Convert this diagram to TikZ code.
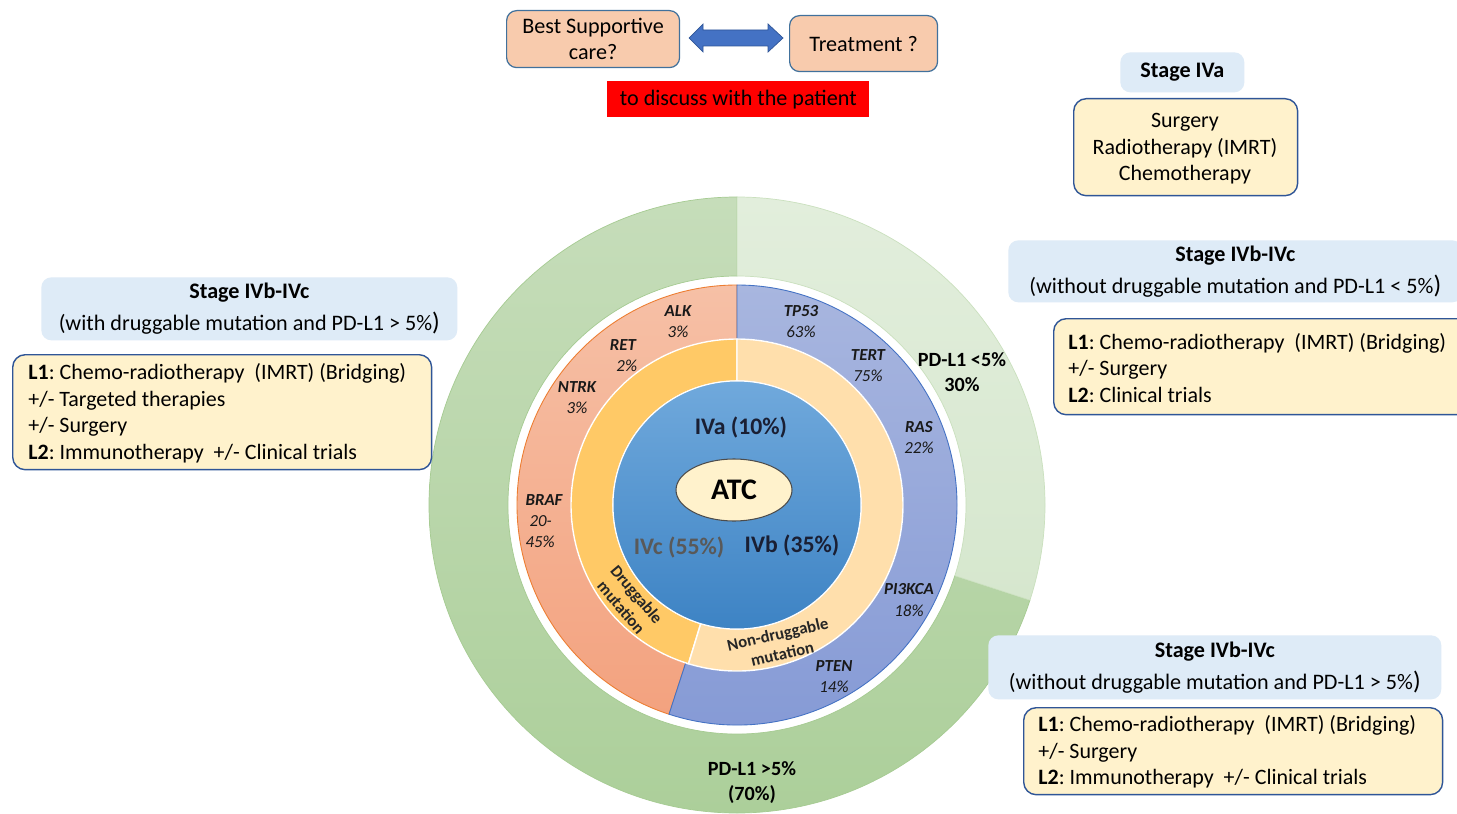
\documentclass[tikz,border=0pt]{standalone}
\usepackage{fontspec}
\setmainfont{Carlito}
\usetikzlibrary{shapes.geometric}
\definecolor{gdkT}{HTML}{C6DDBA}
\definecolor{gdkB}{HTML}{ACCF9A}
\definecolor{gdkL}{HTML}{A6CB92}
\definecolor{gltT}{HTML}{E2EEDC}
\definecolor{gltB}{HTML}{D6E7CE}
\definecolor{salT}{HTML}{F6C0A6}
\definecolor{salB}{HTML}{F3A27F}
\definecolor{salL}{HTML}{ED7D31}
\definecolor{bluT}{HTML}{A8B6DF}
\definecolor{bluB}{HTML}{8499D5}
\definecolor{bluL}{HTML}{4472C4}
\definecolor{drug}{HTML}{FFC966}
\definecolor{ndrug}{HTML}{FFDFAC}
\definecolor{cenT}{HTML}{70A9DC}
\definecolor{cenB}{HTML}{3D83C4}
\definecolor{atcfill}{HTML}{FFF2CC}
\definecolor{ttlblue}{HTML}{DEEBF7}
\definecolor{boxline}{HTML}{2F5597}
\definecolor{peach}{HTML}{F8CBAD}
\definecolor{steel}{HTML}{41719C}
\definecolor{arrowblue}{HTML}{4472C4}
\definecolor{txtgray}{HTML}{595959}
\definecolor{navytxt}{HTML}{1A1F33}
\begin{document}
\frenchspacing
\begin{tikzpicture}[x=0.02cm,y=-0.02cm,
  ttl/.style={fill=ttlblue, rounded corners=0.2cm, align=center, inner sep=0,
    font=\fontsize{12.6}{18}\selectfont, anchor=north west},
  ybox/.style={fill=atcfill, draw=boxline, line width=0.8pt, rounded corners=0.25cm,
    inner sep=0, anchor=north west},
  ytxt/.style={align=left, inner sep=0, anchor=west, font=\fontsize{12.5}{15.1}\selectfont},
  topbox/.style={fill=peach, draw=steel, line width=0.7pt, rounded corners=0.2cm,
    align=center, inner sep=0, font=\fontsize{12.6}{14.8}\selectfont, anchor=north west},
  mut/.style={font=\fontsize{9.6}{12}\selectfont\itshape, align=center, inner sep=0, text=black!90},
  pdl/.style={font=\fontsize{11.5}{14.2}\selectfont\bfseries, align=center, inner sep=0},
  stg/.style={font=\fontsize{13.5}{16}\selectfont\bfseries, inner sep=0},
  rot/.style={font=\fontsize{9.5}{11.5}\selectfont\bfseries, align=center, inner sep=0, text=black!85}
]
\clip (0,0) rectangle (1457,814);
\fill[white] (0,0) rectangle (1457,814);

% ---------- rings ----------
\begin{scope}[shift={(737,505)}, y=0.02cm]
  \path[top color=gdkT, bottom color=gdkB, draw=gdkL, line width=0.4pt]
    (90:308) arc[start angle=90, end angle=342, radius=308] -- (342:229)
    arc[start angle=342, end angle=90, radius=229] -- cycle;
  \path[top color=gltT, bottom color=gltB, draw=gdkL!60, line width=0.4pt]
    (-18:308) arc[start angle=-18, end angle=90, radius=308] -- (90:229)
    arc[start angle=90, end angle=-18, radius=229] -- cycle;
  \path[top color=salT, bottom color=salB, draw=salL, line width=0.5pt]
    (90:220) arc[start angle=90, end angle=252, radius=220] -- (252:166)
    arc[start angle=252, end angle=90, radius=166] -- cycle;
  \path[top color=bluT, bottom color=bluB, draw=bluL, line width=0.5pt]
    (-108:220) arc[start angle=-108, end angle=90, radius=220] -- (90:166)
    arc[start angle=90, end angle=-108, radius=166] -- cycle;
  \path[fill=drug, draw=white, line width=0.8pt]
    (90:166) arc[start angle=90, end angle=253, radius=166] -- (253:124)
    arc[start angle=253, end angle=90, radius=124] -- cycle;
  \path[fill=ndrug, draw=white, line width=0.8pt]
    (-107:166) arc[start angle=-107, end angle=90, radius=166] -- (90:124)
    arc[start angle=90, end angle=-107, radius=124] -- cycle;
  \path[top color=cenT, bottom color=cenB, draw=white, line width=0.6pt]
    (0,0) circle[radius=124];
\end{scope}

% ---------- centre ----------
\node[ellipse, fill=atcfill, draw=black!70, line width=0.6pt, minimum width=2.32cm,
  minimum height=1.24cm, inner sep=0, font=\fontsize{17}{20}\selectfont\bfseries] (atc) at (734,490) {ATC};
\node[stg, text=navytxt] (iva) at (741,427) {IVa (10\%)};
\node[stg, text=txtgray] (ivc) at (679,547) {IVc (55\%)};
\node[stg, text=navytxt] (ivb) at (792,545) {IVb (35\%)};

% ---------- mutation labels ----------
\node[mut] (alk) at (678,322) {{\bfseries ALK}\\3\%};
\node[mut] (ret) at (623,356) {{\bfseries RET}\\\hspace*{0.15cm}2\%};
\node[mut] (ntrk) at (577,398) {{\bfseries NTRK}\\3\%};
\node[mut, align=left] (braf) at (544,521) {{\bfseries BRAF}\\\hspace*{0.08cm}20-\\45\%};
\node[mut] (tp53) at (801,322) {{\bfseries TP53}\\63\%};
\node[mut] (tert) at (868,366) {{\bfseries TERT}\\75\%};
\node[mut] (ras) at (919,438) {{\bfseries RAS}\\22\%};
\node[mut] (pik) at (909,600) {{\bfseries PI3KCA}\\18\%};
\node[mut] (pten) at (834,677) {{\bfseries PTEN}\\14\%};

\node[rot, rotate=-50] (drg) at (629,601) {Druggable\\mutation};
\node[rot, rotate=13] (ndrg) at (780,644) {Non-druggable\\mutation};

\node[pdl] (pdlow) at (962,372) {PD-L1 <5\%\\30\%};
\node[pdl] (pdhigh) at (752,783) {PD-L1 >5\%\\(70\%)};

% ---------- top ----------
\node[topbox, minimum width=3.46cm, minimum height=1.14cm] (bsc) at (506,10) {Best Supportive\\care?};
\node[topbox, minimum width=2.96cm, minimum height=1.12cm] (trt) at (789,15) {Treatment ?};
\path[fill=arrowblue, draw=boxline, line width=0.4pt]
  (689,38) -- (703,24) -- (703,30) -- (768,30) -- (768,24) -- (783,38)
  -- (768,52) -- (768,46) -- (703,46) -- (703,52) -- cycle;
\node[fill=red, minimum width=5.24cm, minimum height=0.72cm, inner sep=0, anchor=north west,
  font=\fontsize{12.6}{14}\selectfont] (disc) at (607,81) {to discuss with the patient};

% ---------- Stage IVa ----------
\node[ttl, minimum width=2.48cm, minimum height=0.8cm] (s4a) at (1120,52) {\textbf{Stage IVa}};
\node[ybox, minimum width=4.48cm, minimum height=1.94cm] (s4ab) at (1073,98) {};
\node[align=center, inner sep=0, font=\fontsize{12.5}{15.1}\selectfont] (s4abt) at (1185,149)
  {Surgery\\Radiotherapy (IMRT)\\Chemotherapy};

% ---------- right top ----------
\node[ttl, minimum width=9.08cm, minimum height=1.24cm] (s4r) at (1008,240)
  {\textbf{Stage IVb-IVc}\\(without druggable mutation and PD-L1 < 5\%{\Large)}};
\node[ybox, minimum width=8.4cm, minimum height=1.92cm] (s4rb) at (1053,318) {};
\node[ytxt] (s4rbt) at (1068,368)
  {\textbf{L1}: Chemo-radiotherapy\ \ (IMRT) (Bridging)\\+/- Surgery\\\textbf{L2}: Clinical trials};

% ---------- left ----------
\node[ttl, minimum width=8.32cm, minimum height=1.26cm] (s4l) at (41,277)
  {\textbf{Stage IVb-IVc}\\(with druggable mutation and PD-L1 > 5\%{\Large)}};
\node[ybox, minimum width=8.38cm, minimum height=2.3cm] (s4lb) at (12,354) {};
\node[ytxt] (s4lbt) at (28,413)
  {\textbf{L1}: Chemo-radiotherapy\ \ (IMRT) (Bridging)\\+/- Targeted therapies\\+/- Surgery\\\textbf{L2}: Immunotherapy\ \ +/- Clinical trials};

% ---------- bottom right ----------
\node[ttl, minimum width=9.06cm, minimum height=1.28cm] (s4br) at (988,635)
  {\textbf{Stage IVb-IVc}\\(without druggable mutation and PD-L1 > 5\%{\Large)}};
\node[ybox, minimum width=8.38cm, minimum height=1.74cm] (s4brb) at (1023,707) {};
\node[ytxt] (s4brbt) at (1038,752)
  {\textbf{L1}: Chemo-radiotherapy\ \ (IMRT) (Bridging)\\+/- Surgery\\\textbf{L2}: Immunotherapy\ \ +/- Clinical trials};
\end{tikzpicture}
\end{document}
